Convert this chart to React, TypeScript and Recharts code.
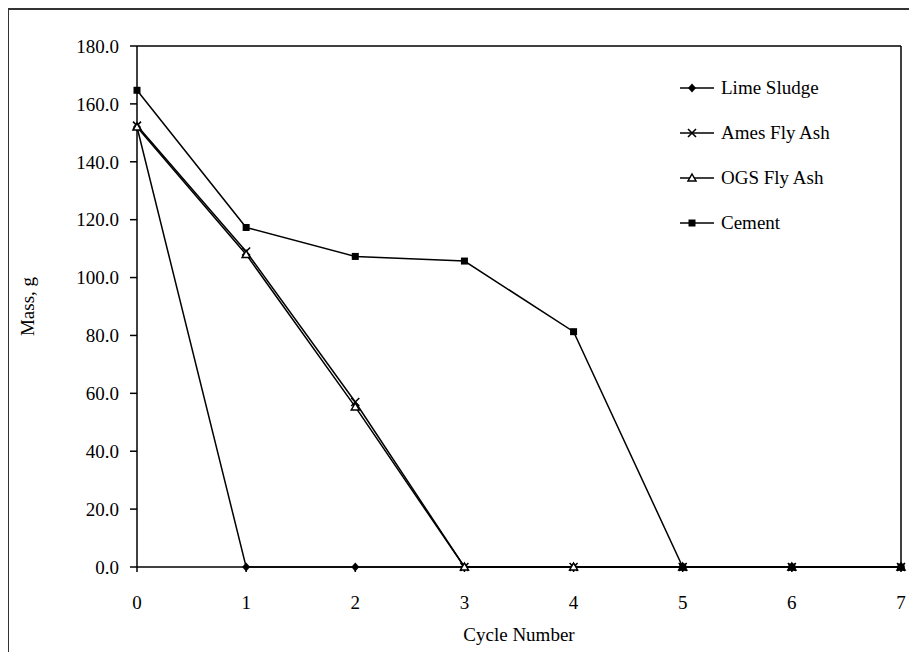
import React from "react";
import { LineChart, Line, XAxis, YAxis, ReferenceLine } from "recharts";

const cycles = [0, 1, 2, 3, 4, 5, 6, 7];
const limeSludge = [152.0, 0, 0, 0, 0, 0, 0, 0];
const amesFlyAsh = [152.5, 109.0, 57.0, 0, 0, 0, 0, 0];
const ogsFlyAsh = [152.0, 108.0, 55.3, 0, 0, 0, 0, 0];
const cement = [164.7, 117.3, 107.3, 105.7, 81.3, 0, 0, 0];
const yTicks = [0, 20, 40, 60, 80, 100, 120, 140, 160, 180];

const data = cycles.map((c, i) => ({
  cycle: c,
  lime: limeSludge[i],
  ames: amesFlyAsh[i],
  ogs: ogsFlyAsh[i],
  cement: cement[i],
}));

const FONT = "'Liberation Serif', 'Times New Roman', serif";

type Shape = "diamond" | "cross" | "triangle" | "square";

function Marker({ cx, cy, shape }: { cx: number; cy: number; shape: Shape }) {
  if (cx == null || cy == null) return null;
  if (shape === "diamond") {
    return <path d={`M${cx},${cy - 4.5}L${cx + 4},${cy}L${cx},${cy + 4.5}L${cx - 4},${cy}Z`} fill="#000" />;
  }
  if (shape === "cross") {
    return (
      <path
        d={`M${cx - 4},${cy - 4}L${cx + 4},${cy + 4}M${cx - 4},${cy + 4}L${cx + 4},${cy - 4}`}
        stroke="#000"
        strokeWidth={1.6}
        fill="none"
      />
    );
  }
  if (shape === "triangle") {
    return (
      <path
        d={`M${cx},${cy - 4}L${cx + 4},${cy + 3}L${cx - 4},${cy + 3}Z`}
        stroke="#000"
        strokeWidth={1.5}
        fill="#fff"
      />
    );
  }
  return <rect x={cx - 3.5} y={cy - 3.5} width={7} height={7} fill="#000" />;
}

const seriesList: { key: string; name: string; shape: Shape }[] = [
  { key: "lime", name: "Lime Sludge", shape: "diamond" },
  { key: "ames", name: "Ames Fly Ash", shape: "cross" },
  { key: "ogs", name: "OGS Fly Ash", shape: "triangle" },
  { key: "cement", name: "Cement", shape: "square" },
];

// legend drawn outside the chart so it doesn't eat into the plot area
function LegendBox() {
  return (
    <div style={{ position: "absolute", left: 680, top: 65, fontFamily: FONT, fontSize: 19, color: "#000" }}>
      {seriesList.map((s) => (
        <div key={s.key} style={{ display: "flex", alignItems: "center", height: 45 }}>
          <svg width={35} height={20} style={{ overflow: "visible" }}>
            <line x1={0} y1={10} x2={34} y2={10} stroke="#000" strokeWidth={1.5} />
            <Marker cx={12} cy={10} shape={s.shape} />
          </svg>
          <span style={{ marginLeft: 6 }}>{s.name}</span>
        </div>
      ))}
    </div>
  );
}

export default function App() {
  return (
    <div style={{ position: "relative", width: 917, height: 660, margin: -8, overflow: "hidden", background: "#fff" }}>
      {/* outer chart frame, right and bottom edges fall outside the picture */}
      <div
        style={{
          position: "absolute",
          left: 7,
          top: 8,
          width: 960,
          height: 720,
          borderTop: "2px solid #333",
          borderLeft: "2px solid #333",
        }}
      />
      <div style={{ position: "absolute", left: 0, top: 0 }}>
        <LineChart width={917} height={660} data={data} margin={{ top: 46, right: 16, left: 0, bottom: 0 }}>
          <XAxis
            dataKey="cycle"
            type="number"
            domain={[0, 7]}
            ticks={cycles}
            height={93}
            stroke="#000"
            strokeWidth={1.5}
            tickSize={5}
            tickMargin={24}
            tick={{ fontFamily: FONT, fontSize: 19, fill: "#000" }}
            label={{
              value: "Cycle Number",
              position: "insideBottom",
              offset: 19,
              style: { fontFamily: FONT, fontSize: 19, fill: "#000" },
            }}
          />
          <YAxis
            domain={[0, 180]}
            ticks={yTicks}
            width={137}
            stroke="#000"
            strokeWidth={1.5}
            tickSize={7}
            tickMargin={11}
            interval={0}
            tickFormatter={(v: number) => v.toFixed(1)}
            tick={{ fontFamily: FONT, fontSize: 19, fill: "#000" }}
            label={{
              content: (props: any) => {
                const vb = props.viewBox || { x: 0, y: 46, height: 521 };
                const cx = 27;
                const cy = vb.y + vb.height / 2;
                return (
                  <text
                    x={cx}
                    y={cy}
                    transform={`rotate(-90, ${cx}, ${cy})`}
                    textAnchor="middle"
                    dominantBaseline="central"
                    style={{ fontFamily: FONT, fontSize: 19, fill: "#000" }}
                  >
                    Mass, g
                  </text>
                );
              },
            }}
          />
          <ReferenceLine y={180} stroke="#000" strokeWidth={1.5} />
          <ReferenceLine x={7} stroke="#000" strokeWidth={1.5} />
          {seriesList.map((s) => (
            <Line
              key={s.key}
              dataKey={s.key}
              name={s.name}
              type="linear"
              stroke="#000"
              strokeWidth={1.5}
              isAnimationActive={false}
              dot={(p: any) => <Marker key={`${s.key}-${p.index}`} cx={p.cx} cy={p.cy} shape={s.shape} />}
              activeDot={false}
            />
          ))}
        </LineChart>
      </div>
      <LegendBox />
    </div>
  );
}
